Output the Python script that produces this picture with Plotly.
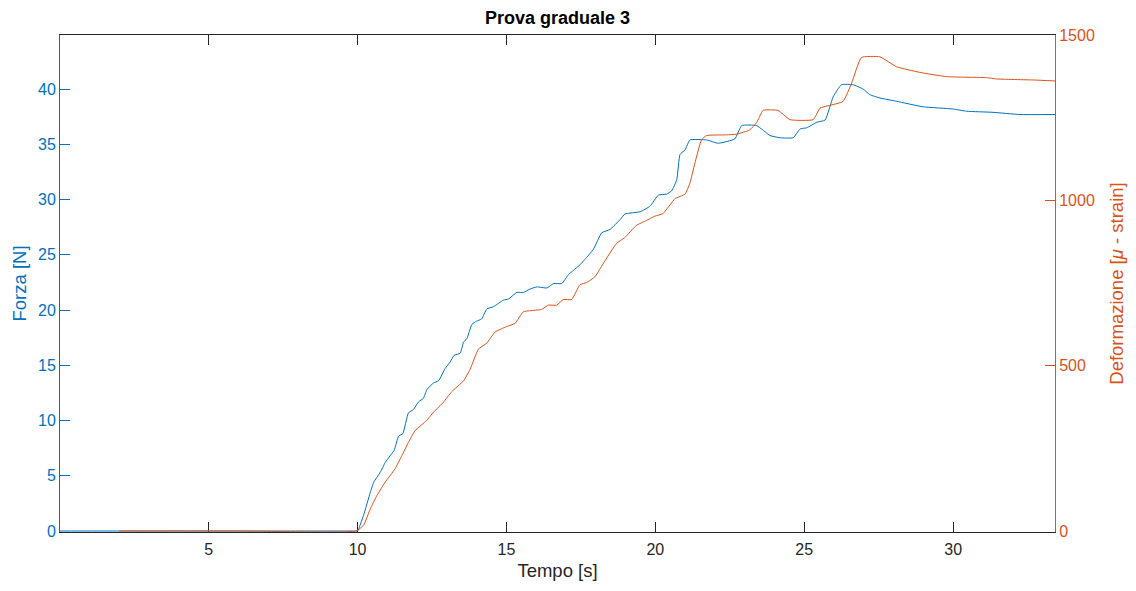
import plotly.graph_objects as go

title_text = "Prova graduale 3"
x_title = "Tempo [s]"
y1_title = "Forza [N]"
y2_title = "Deformazione [<i>μ</i> - strain]"

force_t = [0.0, 2.0, 6.0, 9.9, 10.0, 10.2, 10.43, 10.54, 10.76, 10.93, 11.09, 11.23, 11.38, 11.52,
           11.71, 11.88, 12.05, 12.21, 12.33, 12.55, 12.72, 12.94, 13.11, 13.24, 13.45, 13.56,
           13.67, 13.84, 14.0, 14.17, 14.34, 14.56, 14.9, 15.07, 15.35, 15.57, 15.79, 16.02,
           16.36, 16.58, 16.86, 17.08, 17.47, 17.64, 17.92, 18.2, 18.48, 18.82, 18.98, 19.49,
           19.82, 20.1, 20.38, 20.55, 20.72, 20.83, 21.0, 21.16, 21.72, 22.11, 22.67, 22.9,
           23.4, 23.85, 24.18, 24.63, 24.86, 25.08, 25.42, 25.7, 25.97, 26.25, 26.64, 26.98,
           27.2, 27.54, 28.1, 28.99, 30.0, 30.45, 31.34, 32.24, 33.42]
force_v = [0.0, 0.0, 0.0, 0.0, 0.0, 1.4, 3.5, 4.4, 5.3, 6.2, 6.8, 7.3, 8.6, 8.8,
           10.7, 11.0, 11.7, 12.0, 12.8, 13.4, 13.6, 14.7, 15.3, 15.9, 16.1, 17.1,
           17.4, 18.7, 19.0, 19.2, 20.1, 20.3, 20.9, 21.0, 21.6, 21.6, 21.9, 22.1,
           22.0, 22.4, 22.4, 23.2, 24.1, 24.6, 25.5, 27.0, 27.3, 28.2, 28.7, 28.9,
           29.4, 30.4, 30.5, 30.8, 31.8, 34.1, 34.5, 35.4, 35.4, 35.1, 35.5, 36.7,
           36.7, 35.8, 35.6, 35.6, 36.4, 36.5, 37.0, 37.2, 39.3, 40.4, 40.4, 40.0,
           39.5, 39.2, 38.9, 38.4, 38.2, 38.0, 37.9, 37.7, 37.7]

strain_t = [2.0, 6.0, 9.95, 10.2, 10.43, 10.65, 10.93, 11.26, 11.49, 11.71, 11.93, 12.32, 12.55,
            12.88, 13.16, 13.56, 13.78, 14.06, 14.34, 14.62, 15.0, 15.29, 15.57, 16.18, 16.41,
            16.69, 16.91, 17.19, 17.47, 17.69, 17.97, 18.3, 18.7, 18.97, 19.36, 19.7, 19.98,
            20.26, 20.66, 21.0, 21.16, 21.33, 21.55, 21.72, 22.39, 22.73, 23.17, 23.4, 23.62,
            24.12, 24.52, 25.3, 25.53, 25.8, 26.3, 26.59, 26.92, 27.54, 28.1, 28.88, 29.78,
            31.12, 31.46, 32.68, 33.42]
strain_v = [0, 0, 0, 17, 67, 107, 148, 188, 228, 268, 303, 334, 359,
            389, 421, 454, 489, 550, 568, 602, 618, 628, 663, 670, 683,
            683, 700, 700, 745, 751, 769, 816, 870, 887, 924, 939, 952,
            960, 1005, 1019, 1052, 1113, 1183, 1196, 1198, 1200, 1213, 1235, 1272,
            1272, 1244, 1244, 1279, 1286, 1299, 1354, 1432, 1434, 1404, 1387, 1374,
            1371, 1367, 1364, 1361]

x_ticks = [5, 10, 15, 20, 25, 30]
y1_ticks = [0, 5, 10, 15, 20, 25, 30, 35, 40]
y2_ticks = [0, 500, 1000, 1500]

BLUE = "#0072BD"
ORANGE = "#D95319"
DARK = "#262626"
FONT = "Liberation Sans, Arial, sans-serif"

fig = go.Figure()
fig.add_trace(go.Scatter(x=force_t, y=force_v, mode="lines", line=dict(color=BLUE, width=1, shape="spline", smoothing=0.4),
                         yaxis="y", showlegend=False))
fig.add_trace(go.Scatter(x=strain_t, y=strain_v, mode="lines", line=dict(color=ORANGE, width=1, shape="spline", smoothing=0.4),
                         yaxis="y2", showlegend=False))

fig.update_layout(
    width=1136, height=591,
    margin=dict(l=60, r=81, t=35, b=59),
    paper_bgcolor="white", plot_bgcolor="white",
    font=dict(family=FONT, size=16, color=DARK),
    title=dict(text="<b>" + title_text + "</b>", x=0.5, xanchor="center", xref="paper",
               y=1 - 18 / 591, yanchor="middle", yref="container",
               font=dict(size=18, color="#000000", family=FONT)),
    xaxis=dict(range=[0.01, 33.42], tickvals=x_ticks, ticks="inside", ticklen=10, tickcolor=DARK,
               showline=True, linecolor=DARK, linewidth=1, mirror="ticks", showgrid=False, zeroline=False,
               tickfont=dict(size=16, color=DARK), ticklabelstandoff=3, layer="below traces",
               title=dict(text=x_title, font=dict(size=18.5, color=DARK), standoff=6)),
    yaxis=dict(range=[-0.09, 44.9], tickvals=y1_ticks, ticks="inside", ticklen=10, tickcolor=BLUE,
               showline=True, linecolor=BLUE, linewidth=1, showgrid=False, zeroline=False,
               tickfont=dict(size=16, color=BLUE), layer="below traces",
               title=dict(text=y1_title, font=dict(size=18.5, color=BLUE), standoff=6)),
    yaxis2=dict(range=[-3, 1500], tickvals=y2_ticks, ticks="inside", ticklen=10, tickcolor=ORANGE,
                overlaying="y", side="right",
                showline=True, linecolor=ORANGE, linewidth=1, showgrid=False, zeroline=False,
                tickfont=dict(size=16, color=ORANGE), layer="below traces",
                title=dict(text=y2_title, font=dict(size=18.5, color=ORANGE), standoff=16)),
)

fig.write_html("out.html")
